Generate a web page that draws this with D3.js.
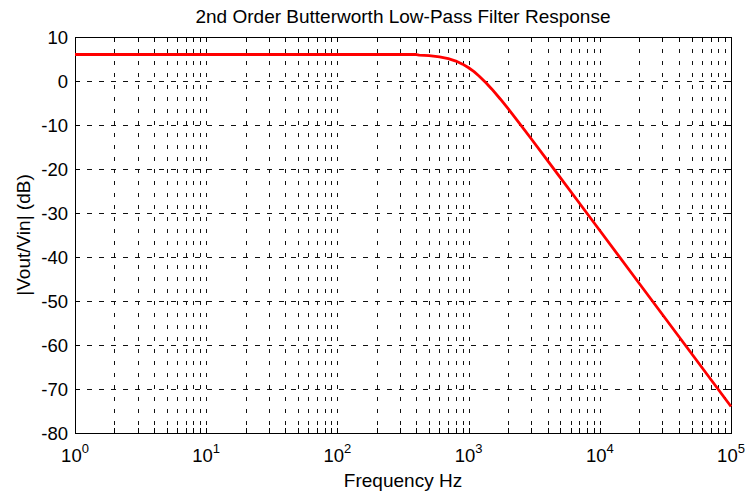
<!DOCTYPE html>
<html>
<head>
<meta charset="utf-8">
<script src="https://cdn.jsdelivr.net/npm/d3@7"></script>
<style>
  html, body { margin: 0; padding: 0; background: #fff; }
  svg { display: block; }
  text { font-family: "Liberation Sans", Arial, Helvetica, sans-serif; fill: #000; }
</style>
</head>
<body>
<svg id="chart" width="745" height="492"></svg>
<script>
// Magnitude response of a 2nd-order Butterworth low-pass filter (gain 2, fc = 1 kHz)
const frequencyHz = [1, 400, 420, 500, 600, 700, 800, 900, 1000, 1100, 1200, 1350, 1500,
                     1750, 2000, 2500, 3000, 4000, 5000, 7000, 10000, 20000, 50000, 100000];
const gainDb = [6.02, 6.02, 5.9, 5.76, 5.49, 5.09, 4.53, 3.83, 3.01, 2.12, 1.14, -0.34, -1.81,
                -4.14, -6.28, -10.01, -13.12, -18.08, -21.95, -27.79, -33.98, -46.02, -61.94, -73.98];

const xDecades = [1, 10, 100, 1000, 10000, 100000];
const xDecadeExponents = ["0", "1", "2", "3", "4", "5"];
const yTicks = [-80, -70, -60, -50, -40, -30, -20, -10, 0, 10];

const titleText = "2nd Order Butterworth Low-Pass Filter Response";
const xLabelText = "Frequency Hz";
const yLabelText = "|Vout/Vin| (dB)";

const plot = { left: 75, top: 37, right: 731, bottom: 433 };
const FONT = 18.5;

const svg = d3.select("#chart");

const x = d3.scaleLog().domain([1, 100000]).range([plot.left, plot.right]);
const y = d3.scaleLinear().domain([-80, 10]).range([plot.bottom, plot.top]);

// every major and minor position on the log axis
const xAllTicks = [];
xDecades.slice(0, -1).forEach(d => { for (let k = 1; k <= 9; k++) xAllTicks.push(d * k); });
xAllTicks.push(100000);

const snap = v => Math.round(v) + 0.5;

// dashed grid
const grid = svg.append("g")
  .attr("stroke", "#111").attr("stroke-width", 1)
  .attr("shape-rendering", "crispEdges").attr("fill", "none");

grid.selectAll("line.v").data(xAllTicks.filter(v => v > 1 && v < 100000)).join("line")
  .attr("class", "v")
  .attr("stroke-dasharray", "4,8")
  .attr("x1", d => snap(x(d))).attr("x2", d => snap(x(d)))
  .attr("y1", plot.top).attr("y2", plot.bottom);

grid.selectAll("line.h").data(yTicks.filter(v => v > -80 && v < 10)).join("line")
  .attr("class", "h")
  .attr("stroke-dasharray", "5,7")
  .attr("x1", plot.left).attr("x2", plot.right)
  .attr("y1", d => snap(y(d))).attr("y2", d => snap(y(d)));

// axes with inward ticks on all four sides
const TICK = 5;
function styleAxis(g) {
  g.attr("shape-rendering", "crispEdges");
  g.selectAll("path.domain").attr("stroke", "#000").attr("stroke-width", 1);
  g.selectAll(".tick line").attr("stroke", "#000").attr("stroke-width", 1);
  g.selectAll(".tick text").remove();
}
svg.append("g").attr("transform", `translate(0,${plot.bottom})`)
  .call(d3.axisBottom(x).tickValues(xAllTicks).tickSize(-TICK).tickSizeOuter(0).tickFormat(""))
  .call(styleAxis);
svg.append("g").attr("transform", `translate(0,${plot.top})`)
  .call(d3.axisTop(x).tickValues(xAllTicks).tickSize(-TICK).tickSizeOuter(0).tickFormat(""))
  .call(styleAxis);
svg.append("g").attr("transform", `translate(${plot.left},0)`)
  .call(d3.axisLeft(y).tickValues(yTicks).tickSize(-TICK).tickSizeOuter(0).tickFormat(""))
  .call(styleAxis);
svg.append("g").attr("transform", `translate(${plot.right},0)`)
  .call(d3.axisRight(y).tickValues(yTicks).tickSize(-TICK).tickSizeOuter(0).tickFormat(""))
  .call(styleAxis);

// response curve
const line = d3.line().x((d, i) => x(frequencyHz[i])).y(d => y(d));
svg.append("path")
  .datum(gainDb)
  .attr("d", line)
  .attr("fill", "none")
  .attr("stroke", "#ff0000")
  .attr("stroke-width", 2.8)
  .attr("stroke-linejoin", "round");

// y tick labels
svg.append("g").selectAll("text").data(yTicks).join("text")
  .attr("x", plot.left - 7)
  .attr("y", d => y(d))
  .attr("dy", "0.36em")
  .attr("text-anchor", "end")
  .attr("font-size", FONT)
  .text(d => d);

// x tick labels: 10 with superscript exponent
const xl = svg.append("g").selectAll("text").data(xDecades).join("text")
  .attr("x", d => x(d))
  .attr("y", 462)
  .attr("text-anchor", "middle")
  .attr("font-size", FONT);
xl.append("tspan").text("10");
xl.append("tspan").attr("dy", -9).attr("font-size", 13).text((d, i) => xDecadeExponents[i]);

// title and axis labels
svg.append("text")
  .attr("x", (plot.left + plot.right) / 2).attr("y", 23)
  .attr("text-anchor", "middle").attr("font-size", 19)
  .text(titleText);

svg.append("text")
  .attr("x", (plot.left + plot.right) / 2).attr("y", 487)
  .attr("text-anchor", "middle").attr("font-size", 19)
  .text(xLabelText);

svg.append("text")
  .attr("transform", `translate(30,${(plot.top + plot.bottom) / 2}) rotate(-90)`)
  .attr("text-anchor", "middle").attr("font-size", 19)
  .text(yLabelText);
</script>
</body>
</html>
